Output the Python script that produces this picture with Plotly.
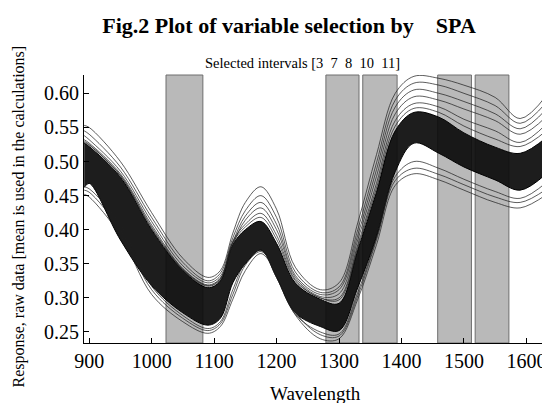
import plotly.graph_objects as go

wavelength = [892, 900, 950, 1000, 1050, 1090, 1110, 1130, 1150, 1175, 1200, 1230,
              1270, 1300, 1330, 1360, 1390, 1420, 1460, 1500, 1550, 1590, 1633]

# Dense band of spectra (upper and lower boundary of the black mass)
band_top = [0.527, 0.522, 0.477, 0.400, 0.340, 0.315, 0.325, 0.378, 0.400, 0.412, 0.380, 0.322,
            0.298, 0.292, 0.370, 0.455, 0.545, 0.572, 0.565, 0.542, 0.521, 0.512, 0.536]
band_bottom = [0.462, 0.468, 0.385, 0.318, 0.278, 0.260, 0.270, 0.322, 0.350, 0.370, 0.330, 0.278,
               0.258, 0.252, 0.315, 0.390, 0.485, 0.527, 0.512, 0.492, 0.473, 0.458, 0.483]

# Individually visible spectra above the dense band
upper_1 = [0.553, 0.550, 0.500, 0.425, 0.358, 0.330, 0.340, 0.395, 0.440, 0.463, 0.430, 0.345,
           0.312, 0.322, 0.410, 0.510, 0.600, 0.625, 0.622, 0.612, 0.594, 0.563, 0.598]
upper_2 = [0.545, 0.540, 0.492, 0.418, 0.352, 0.325, 0.336, 0.388, 0.428, 0.450, 0.418, 0.338,
           0.308, 0.316, 0.400, 0.498, 0.590, 0.615, 0.612, 0.600, 0.582, 0.556, 0.588]
upper_3 = [0.538, 0.532, 0.486, 0.412, 0.347, 0.322, 0.332, 0.382, 0.420, 0.440, 0.408, 0.333,
           0.305, 0.312, 0.392, 0.488, 0.580, 0.605, 0.600, 0.588, 0.570, 0.548, 0.578]
upper_4 = [0.532, 0.527, 0.482, 0.407, 0.343, 0.319, 0.329, 0.378, 0.414, 0.432, 0.400, 0.330,
           0.302, 0.306, 0.385, 0.478, 0.570, 0.595, 0.590, 0.577, 0.560, 0.540, 0.567]
upper_5 = [0.530, 0.525, 0.480, 0.404, 0.342, 0.318, 0.328, 0.383, 0.408, 0.424, 0.392, 0.327,
           0.300, 0.300, 0.378, 0.468, 0.560, 0.585, 0.580, 0.562, 0.545, 0.528, 0.556]
upper_6 = [0.528, 0.524, 0.479, 0.402, 0.341, 0.317, 0.327, 0.381, 0.404, 0.418, 0.386, 0.325,
           0.300, 0.297, 0.374, 0.461, 0.552, 0.578, 0.572, 0.552, 0.533, 0.522, 0.546]

# Individually visible spectra below the dense band
lower_1 = [0.452, 0.448, 0.392, 0.305, 0.265, 0.248, 0.258, 0.298, 0.340, 0.365, 0.335, 0.275,
           0.240, 0.240, 0.298, 0.378, 0.465, 0.482, 0.473, 0.458, 0.440, 0.432, 0.452]
lower_2 = [0.458, 0.455, 0.400, 0.312, 0.270, 0.252, 0.262, 0.305, 0.348, 0.368, 0.338, 0.279,
           0.246, 0.244, 0.303, 0.385, 0.472, 0.490, 0.481, 0.466, 0.448, 0.440, 0.460]
lower_3 = [0.463, 0.460, 0.408, 0.317, 0.274, 0.255, 0.265, 0.312, 0.352, 0.370, 0.330, 0.276,
           0.250, 0.247, 0.308, 0.388, 0.478, 0.500, 0.490, 0.474, 0.456, 0.446, 0.470]

# Selected SPA intervals (start, end in nm)
interval_labels = [3, 7, 8, 10, 11]
interval_start = [1023, 1279, 1338, 1458, 1518]
interval_end = [1082, 1332, 1393, 1512, 1572]

y_ticks = [0.25, 0.30, 0.35, 0.40, 0.45, 0.50, 0.55, 0.60]
x_ticks = [900, 1000, 1100, 1200, 1300, 1400, 1500, 1600]

SERIF = "Liberation Serif, Times New Roman, serif"

fig = go.Figure()

# dense band
fig.add_trace(go.Scatter(x=wavelength, y=band_bottom, mode="lines", line=dict(color="black", width=1, shape="spline"),
                         showlegend=False, hoverinfo="skip"))
fig.add_trace(go.Scatter(x=wavelength, y=band_top, mode="lines", line=dict(color="black", width=1, shape="spline"),
                         fill="tonexty", fillcolor="rgba(12,12,12,0.93)", showlegend=False, hoverinfo="skip"))

for s in [upper_1, upper_2, upper_3, upper_4, upper_5, upper_6, lower_1, lower_2, lower_3]:
    fig.add_trace(go.Scatter(x=wavelength, y=s, mode="lines",
                             line=dict(color="rgba(30,30,30,0.8)", width=0.9, shape="spline"),
                             showlegend=False, hoverinfo="skip"))

shapes = []
for a, b in zip(interval_start, interval_end):
    shapes.append(dict(type="rect", xref="x", yref="paper", x0=a, x1=b, y0=0, y1=1,
                       fillcolor="rgb(185,185,185)", line=dict(color="rgb(110,110,110)", width=1),
                       layer="below"))

# The page adds an 8px body margin, so everything is placed 8px up and left.
fig.update_layout(
    width=550, height=403,
    margin=dict(l=76, r=11, t=67, b=68),
    paper_bgcolor="white", plot_bgcolor="white",
    shapes=shapes,
    font=dict(family=SERIF, color="black"),
    title=dict(text="<b>Fig.2 Plot of variable selection by    SPA</b>",
               font=dict(family=SERIF, size=22, color="black"),
               x=281 / 550, xref="container", xanchor="center",
               y=1 - 17 / 403, yref="container", yanchor="middle"),
    annotations=[
        dict(text="Selected intervals [" + "  ".join(str(v) for v in interval_labels) + "]",
             xref="paper", yref="paper", x=0.471, y=1.045, xanchor="center", yanchor="middle",
             showarrow=False, font=dict(family=SERIF, size=14.5, color="black")),
        dict(text="Response, raw data [mean is used in the calculations]",
             xref="paper", yref="paper", x=-0.1425, y=0.472, xanchor="center", yanchor="middle",
             textangle=-90, showarrow=False, font=dict(family=SERIF, size=16, color="black")),
        dict(text="Wavelength", xref="paper", yref="paper", x=0.501, y=-0.187,
             xanchor="center", yanchor="middle", showarrow=False,
             font=dict(family=SERIF, size=19, color="black")),
    ],
    xaxis=dict(range=[891.7, 1633], tickvals=x_ticks, ticks="inside", ticklen=5, tickcolor="black",
               showline=True, linecolor="black", linewidth=1, showgrid=False, zeroline=False,
               tickfont=dict(family=SERIF, size=20, color="black"), mirror=False),
    yaxis=dict(range=[0.2338, 0.6269], tickvals=y_ticks, tickformat=".2f", ticks="inside", ticklen=5,
               tickcolor="black", showline=True, linecolor="black", linewidth=1, showgrid=False,
               zeroline=False, tickfont=dict(family=SERIF, size=20, color="black"), mirror=False),
)

fig.write_html("out.html")
